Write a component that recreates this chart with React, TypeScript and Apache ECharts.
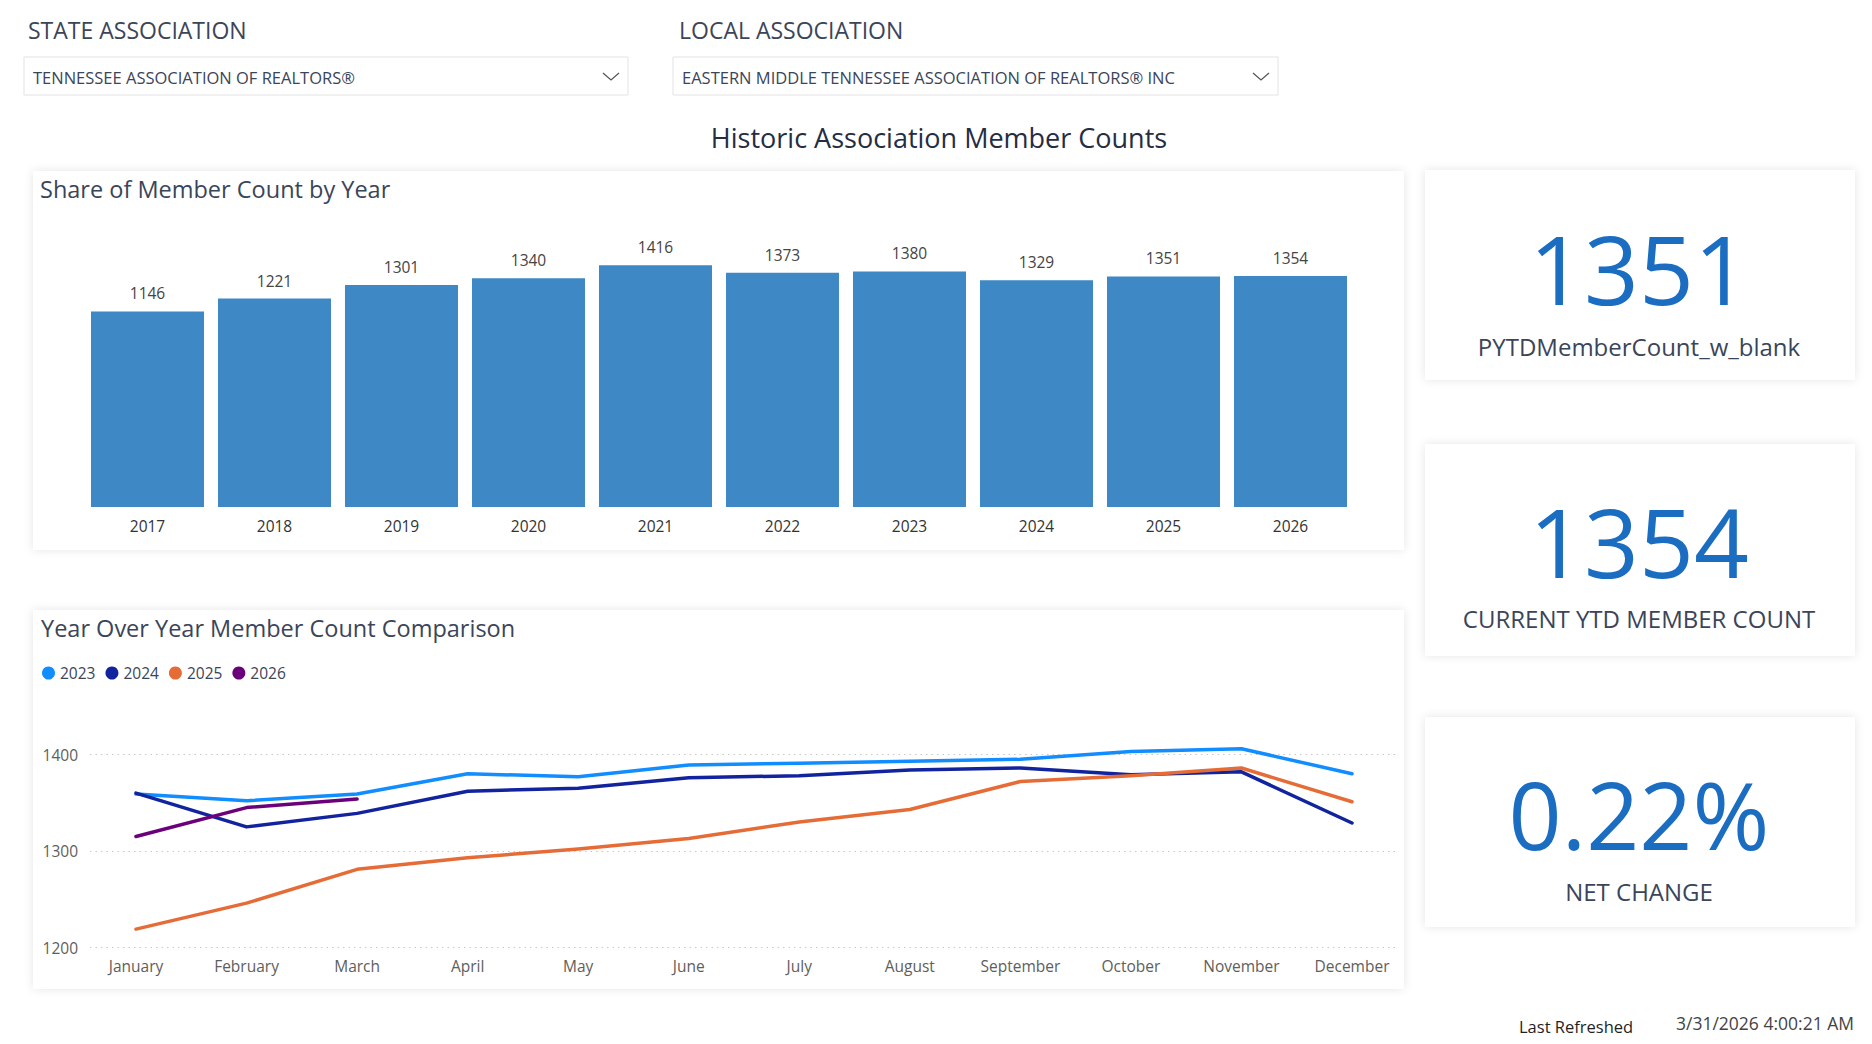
import React, { useEffect, useRef } from "react";
import * as echarts from "echarts";

const years = ["2017", "2018", "2019", "2020", "2021", "2022", "2023", "2024", "2025", "2026"];
const yearCounts = [1146, 1221, 1301, 1340, 1416, 1373, 1380, 1329, 1351, 1354];

const months = [
  "January", "February", "March", "April", "May", "June",
  "July", "August", "September", "October", "November", "December",
];
const counts2023 = [1359, 1352, 1359, 1380, 1377, 1389, 1391, 1393, 1395, 1403, 1406, 1380];
const counts2024 = [1360, 1325, 1339, 1362, 1365, 1376, 1378, 1384, 1386, 1379, 1382, 1329];
const counts2025 = [1219, 1246, 1281, 1293, 1302, 1313, 1330, 1343, 1372, 1378, 1386, 1351];
const counts2026 = [1315, 1345, 1354];

const lineYears = ["2023", "2024", "2025", "2026"];
const lineColors = ["#118DFF", "#12239E", "#E66C37", "#6B007B"];

const kpiValues = ["1351", "1354", "0.22%"];
const kpiLabels = ["PYTDMemberCount_w_blank", "CURRENT YTD MEMBER COUNT", "NET CHANGE"];

const stateLabel = "STATE ASSOCIATION";
const stateValue = "TENNESSEE ASSOCIATION OF REALTORS®";
const localLabel = "LOCAL ASSOCIATION";
const localValue = "EASTERN MIDDLE TENNESSEE ASSOCIATION OF REALTORS® INC";
const pageTitle = "Historic Association Member Counts";
const barTitle = "Share of Member Count by Year";
const lineTitle = "Year Over Year Member Count Comparison";
const refreshedLabel = "Last Refreshed";
const refreshedValue = "3/31/2026 4:00:21 AM";

const FONT = "'Open Sans', 'Segoe UI', sans-serif";
const SLATE = "#3b4559";

function card(x: number, y: number, w: number, h: number) {
  return {
    type: "rect",
    z: 0,
    shape: { x, y, width: w, height: h },
    style: { fill: "#ffffff", shadowBlur: 10, shadowColor: "rgba(0,0,0,0.10)" },
  };
}

function txt(
  text: string,
  x: number,
  y: number,
  size: number,
  color: string,
  align = "left",
  lineHeight?: number
) {
  return {
    type: "text",
    z: 5,
    x,
    y,
    style: {
      text,
      fill: color,
      fontSize: size,
      fontFamily: FONT,
      fontWeight: "normal",
      align,
      verticalAlign: "middle",
      lineHeight: lineHeight ?? Math.round(size * 1.2),
    },
  };
}

function dropdown(x: number, w: number, text: string) {
  const cx = x + w - 17;
  return [
    {
      type: "rect",
      z: 1,
      shape: { x, y: 57, width: w, height: 38 },
      style: { fill: "#fff", stroke: "#e3e3e3", lineWidth: 1 },
    },
    txt(text, x + 9, 77, 16.5, SLATE),
    {
      type: "polyline",
      z: 5,
      shape: { points: [[cx - 8, 73], [cx, 80], [cx + 8, 73]] },
      style: { stroke: "#555", lineWidth: 1.2, fill: "none" },
    },
  ];
}

export default function App() {
  const ref = useRef<HTMLDivElement>(null);

  useEffect(() => {
    if (!ref.current) return;
    const chart = echarts.init(ref.current, null, { renderer: "svg" });

    const kpiCards = [
      { y: 170, h: 210, num: 267, lab: 346, size: 96 },
      { y: 444, h: 212, num: 540, lab: 618, size: 96 },
      { y: 717, h: 210, num: 814, lab: 891, size: 93 },
    ];

    const elements: any[] = [
      card(33, 171, 1371, 379),
      card(33, 610, 1371, 379),
      ...kpiCards.map((k) => card(1425, k.y, 430, k.h)),
      txt(stateLabel, 28, 30, 23, SLATE),
      txt(localLabel, 679, 30, 23, SLATE),
      ...dropdown(24, 604, stateValue),
      ...dropdown(673, 605, localValue),
      txt(pageTitle, 939, 137, 27, "#252d43", "center"),
      txt(barTitle, 40, 189, 23.5, SLATE),
      txt(lineTitle, 41, 628, 23.5, SLATE),
      ...kpiCards.map((k, i) => txt(kpiValues[i], 1639, k.num, k.size, "#1b6dc1", "center", 70)),
      ...kpiCards.map((k, i) => txt(kpiLabels[i], 1639, k.lab, 24, SLATE, "center", 26)),
      txt(refreshedLabel, 1519, 1026, 16.5, "#1f1f1f"),
      txt(refreshedValue, 1854, 1023, 17.5, "#444444", "right"),
    ];

    const lineData = [counts2023, counts2024, counts2025, counts2026];

    const option: any = {
      animation: false,
      backgroundColor: "#ffffff",
      textStyle: { fontFamily: FONT },
      graphic: { elements },
      legend: {
        left: 37,
        top: 660,
        icon: "circle",
        itemWidth: 13,
        itemHeight: 13,
        itemGap: 10,
        data: lineYears,
        textStyle: { fontSize: 15.5, color: SLATE, fontFamily: FONT },
      },
      grid: [
        { left: 84, top: 251, width: 1270, height: 256, containLabel: false, outerBoundsMode: "none" },
        { left: 136, top: 754.5, width: 1216, height: 193, containLabel: false, outerBoundsMode: "none" },
        { left: 90, top: 754.5, width: 1305, height: 193, containLabel: false, outerBoundsMode: "none" },
      ],
      xAxis: [
        {
          type: "category",
          gridIndex: 0,
          data: years,
          axisLine: { show: false },
          axisTick: { show: false },
          axisLabel: { color: "#333333", fontSize: 15.5, margin: 11, fontFamily: FONT, interval: 0 },
        },
        {
          type: "category",
          gridIndex: 1,
          data: months,
          boundaryGap: false,
          axisLine: { show: false },
          axisTick: { show: false },
          splitLine: { show: false },
          axisLabel: { color: "#605E5C", fontSize: 15.5, margin: 10, fontFamily: FONT, interval: 0 },
        },
        { type: "value", gridIndex: 2, min: 0, max: 1, show: false },
      ],
      yAxis: [
        { type: "value", gridIndex: 0, min: 0, max: 1500, show: false },
        { type: "value", gridIndex: 1, min: 1200, max: 1400, show: false },
        {
          type: "value",
          gridIndex: 2,
          min: 1200,
          max: 1400,
          interval: 100,
          axisLine: { show: false },
          axisTick: { show: false },
          axisLabel: {
            color: "#605E5C",
            fontSize: 15.5,
            margin: 12,
            fontFamily: FONT,
            formatter: (v: number) => String(v),
          },
          splitLine: { show: true, lineStyle: { color: "#c8c8c8", width: 1.2, type: [1.5, 4] } },
        },
      ],
      series: [
        {
          type: "bar",
          name: "Members",
          xAxisIndex: 0,
          yAxisIndex: 0,
          data: yearCounts,
          barCategoryGap: "11%",
          itemStyle: { color: "#3E88C5" },
          label: {
            show: true,
            position: "top",
            distance: 10,
            color: "#444444",
            fontSize: 15.5,
            fontFamily: FONT,
          },
        },
        ...lineYears.map((y, i) => ({
          type: "line",
          name: y,
          xAxisIndex: 1,
          yAxisIndex: 1,
          data: lineData[i],
          symbol: "none",
          clip: false,
          z: 3 + i,
          itemStyle: { color: lineColors[i] },
          lineStyle: { color: lineColors[i], width: 3.5, cap: "round", join: "round" },
        })),
      ],
    };

    chart.setOption(option);
    return () => chart.dispose();
  }, []);

  return (
    <div
      ref={ref}
      style={{ position: "fixed", left: 0, top: 0, width: 1872, height: 1044, background: "#fff" }}
    />
  );
}
